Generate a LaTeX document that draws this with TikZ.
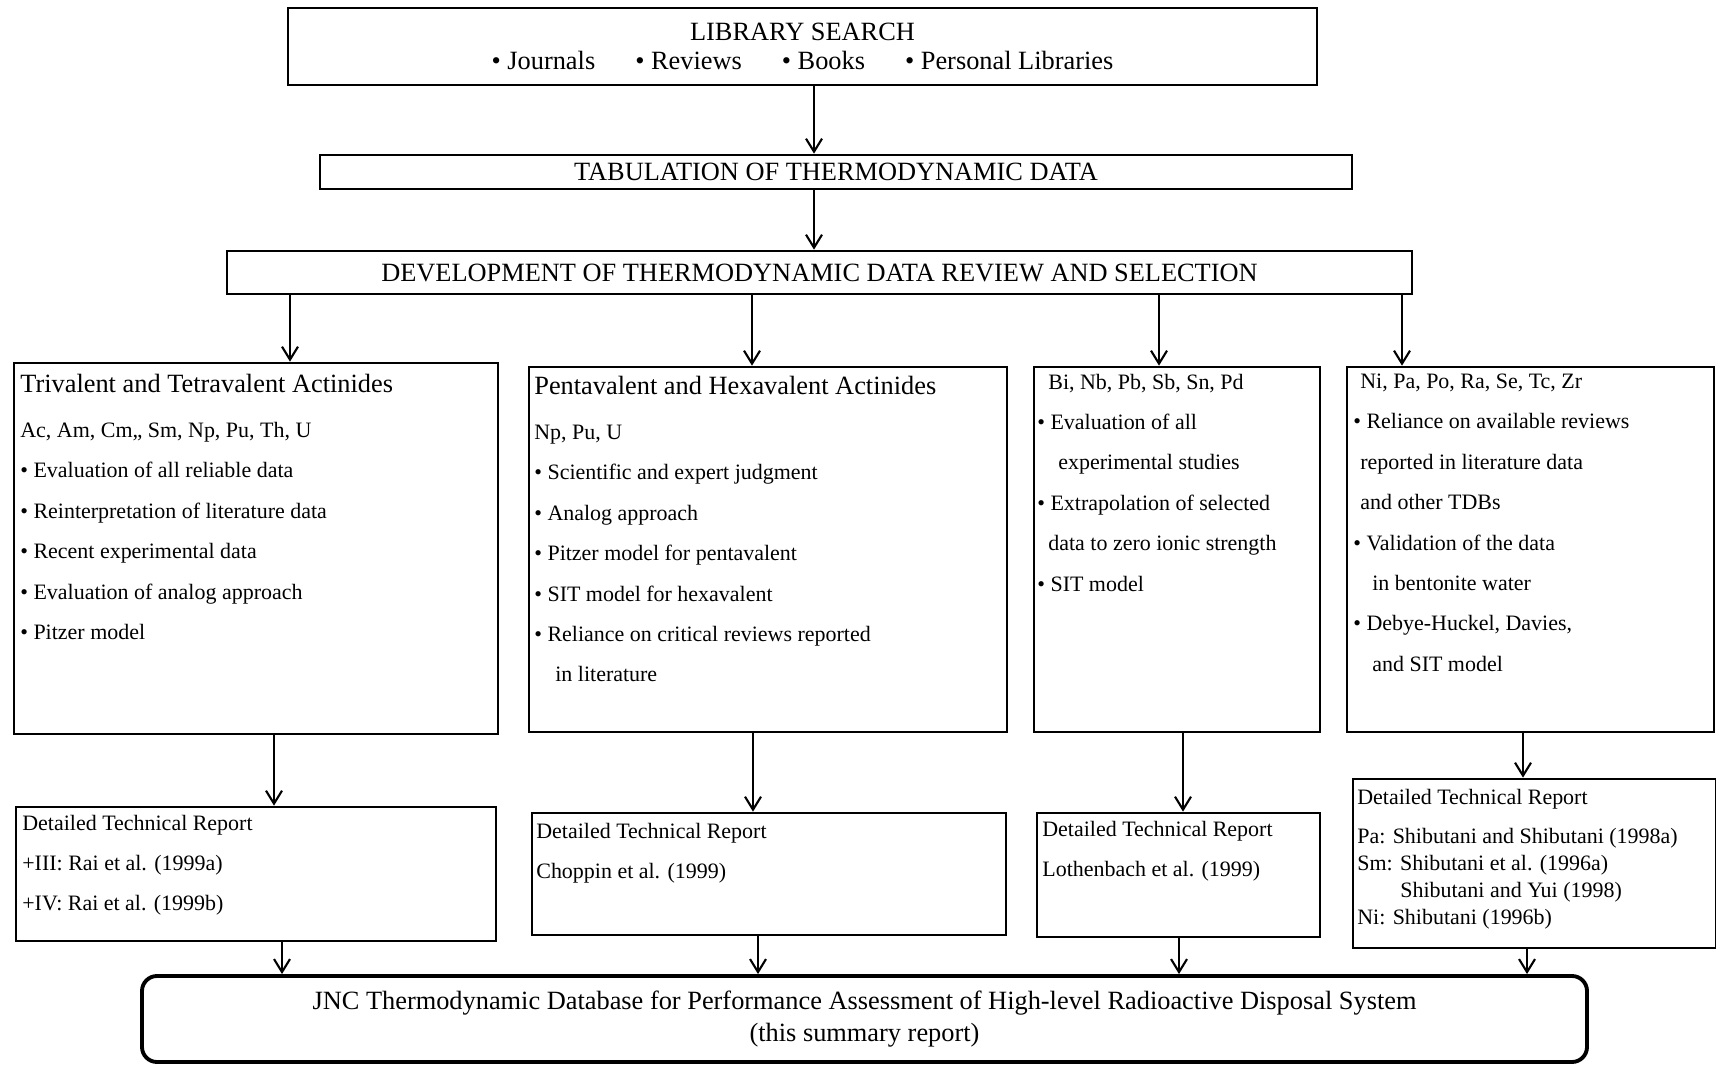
\documentclass[tikz,border=0pt]{standalone}
\usepackage{fontspec}
\setmainfont{Liberation Serif}
\usetikzlibrary{arrows.meta}
\newcommand{\bigtxt}{\fontsize{15}{18.2}\selectfont}
\newcommand{\ttl}[1]{{\fontsize{15}{18}\selectfont #1}}

\begin{document}
\begin{tikzpicture}
            [
            box/.style={draw,line width=1.5pt,inner sep=0pt},
            txt/.style={align=left,inner sep=0pt,anchor=north west,font=\fontsize{12.5}{23}\selectfont},
            arr/.style={-{Straight Barb[length=2.6mm,width=3.2mm]},line width=1.2pt}
            ]
        \useasboundingbox (0,0) rectangle (34.32,21.3);
        % top part
        \node[box,minimum width=20.58cm,minimum height=1.54cm,align=center,font=\bigtxt] (lib) at (16.05,20.37)
            {LIBRARY SEARCH\\[-1.5pt]
             • Journals\hspace{0.8cm}• Reviews\hspace{0.8cm}• Books\hspace{0.8cm}• Personal Libraries};
        \node[box,minimum width=20.64cm,minimum height=0.68cm,font=\bigtxt] (tab) at (16.72,17.86) {TABULATION OF THERMODYNAMIC DATA};
        \node[box,minimum width=23.7cm,minimum height=0.86cm,font=\bigtxt] (dev) at (16.39,15.85) {DEVELOPMENT OF THERMODYNAMIC DATA REVIEW AND SELECTION};
        \draw[arr] ([xshift=2.3mm]lib.south) -- ([xshift=2.3mm]lib.south |- tab.north);
        \draw[arr] ([xshift=-4.4mm]tab.south) -- ([xshift=-4.4mm]tab.south |- dev.north);

        % element groups
        \node[box,minimum width=9.68cm,minimum height=7.42cm] (b1) at (5.12,10.33) {};
        \node[box,minimum width=9.56cm,minimum height=7.30cm] (b2) at (15.36,10.31) {};
        \node[box,minimum width=5.72cm,minimum height=7.30cm] (b3) at (23.54,10.31) {};
        \node[box,minimum width=7.34cm,minimum height=7.30cm] (b4) at (30.61,10.31) {};
        \node[txt] (t1) at (0.40,13.82) {\ttl{Trivalent and Tetravalent Actinides}\\[2.5pt]
            Ac, Am, Cm,, Sm, Np, Pu, Th, U\\
            • Evaluation of all reliable data\\
            • Reinterpretation of literature data\\
            • Recent experimental data\\
            • Evaluation of analog approach\\
            • Pitzer model};
        \node[txt] (t2) at (10.68,13.78) {\ttl{Pentavalent and Hexavalent Actinides}\\[2.5pt]
            Np, Pu, U\\
            • Scientific and expert judgment\\
            • Analog approach\\
            • Pitzer model for pentavalent\\
            • SIT model for hexavalent\\
            • Reliance on critical reviews reported\\
            \hspace*{0.42cm}in literature};
        \node[txt] (t3) at (20.74,13.83) {\hspace*{0.22cm}Bi, Nb, Pb, Sb, Sn, Pd\\
            • Evaluation of all\\
            \hspace*{0.42cm}experimental studies\\
            • Extrapolation of selected\\
            \hspace*{0.22cm}data to zero ionic strength\\
            • SIT model};
        \node[txt] (t4) at (27.06,13.83) {\hspace*{0.14cm}Ni, Pa, Po, Ra, Se, Tc, Zr\\
            • Reliance on available reviews\\
            \hspace*{0.14cm}reported in literature data\\
            \hspace*{0.14cm}and other TDBs\\
            • Validation of the data\\
            \hspace*{0.38cm}in bentonite water\\
            • Debye-Huckel, Davies,\\
            \hspace*{0.38cm}and SIT model};
        \draw[arr] ([xshift=6.8mm]b1.north |- dev.south) -- ([xshift=6.8mm]b1.north);
        \draw[arr] ([xshift=-3.2mm]b2.north |- dev.south) -- ([xshift=-3.2mm]b2.north);
        \draw[arr] ([xshift=-3.6mm]b3.north |- dev.south) -- ([xshift=-3.6mm]b3.north);
        \draw[arr] ([xshift=-25.7mm]b4.north |- dev.south) -- ([xshift=-25.7mm]b4.north);

        % reports
        \node[box,minimum width=9.6cm,minimum height=2.68cm] (r1) at (5.12,3.82) {};
        \node[box,minimum width=9.48cm,minimum height=2.44cm] (r2) at (15.38,3.82) {};
        \node[box,minimum width=5.66cm,minimum height=2.48cm] (r3) at (23.57,3.80) {};
        \node[box,minimum width=7.26cm,minimum height=3.38cm] (r4) at (30.69,4.03) {};
        \node[txt] (s1) at (0.44,5.01) {Detailed Technical Report\\
            +III: Rai et al. (1999a)\\
            +IV: Rai et al. (1999b)};
        \node[txt] (s2) at (10.72,4.85) {Detailed Technical Report\\
            Choppin et al. (1999)};
        \node[txt] (s3) at (20.84,4.89) {Detailed Technical Report\\
            Lothenbach et al. (1999)};
        \node[txt] (s4) at (27.14,5.53) {Detailed Technical Report\\[-0.8pt]
            Pa: Shibutani and Shibutani (1998a)\\[-7.5pt]
            Sm: Shibutani et al. (1996a)\\[-7.5pt]
            \hspace*{0.86cm}Shibutani and Yui (1998)\\[-7.5pt]
            Ni: Shibutani (1996b)};
        \draw[arr] ([xshift=3.6mm]b1.south) -- ([xshift=3.6mm]b1.south |- r1.north);
        \draw[arr] ([xshift=-3mm]b2.south) -- ([xshift=-3mm]b2.south |- r2.north);
        \draw[arr] ([xshift=1.2mm]b3.south) -- ([xshift=1.2mm]b3.south |- r3.north);
        \draw[arr] ([xshift=-1.5mm]b4.south) -- ([xshift=-1.5mm]b4.south |- r4.north);

        % database
        \node[draw,line width=2.2pt,rounded corners=0.3cm,minimum width=28.9cm,minimum height=1.72cm,
            align=center,font=\fontsize{15}{18.2}\selectfont] (jnc) at (17.29,0.92)
            {JNC Thermodynamic Database for Performance Assessment of High-level Radioactive Disposal System\\
             (this summary report)};
        \draw[arr] ([xshift=5.2mm]r1.south) -- ([xshift=5.2mm]r1.south |- jnc.north);
        \draw[arr] ([xshift=-2.2mm]r2.south) -- ([xshift=-2.2mm]r2.south |- jnc.north);
        \draw[arr] ([xshift=0.1mm]r3.south) -- ([xshift=0.1mm]r3.south |- jnc.north);
        \draw[arr] ([xshift=-1.5mm]r4.south) -- ([xshift=-1.5mm]r4.south |- jnc.north);
        \end{tikzpicture}
\end{document}
